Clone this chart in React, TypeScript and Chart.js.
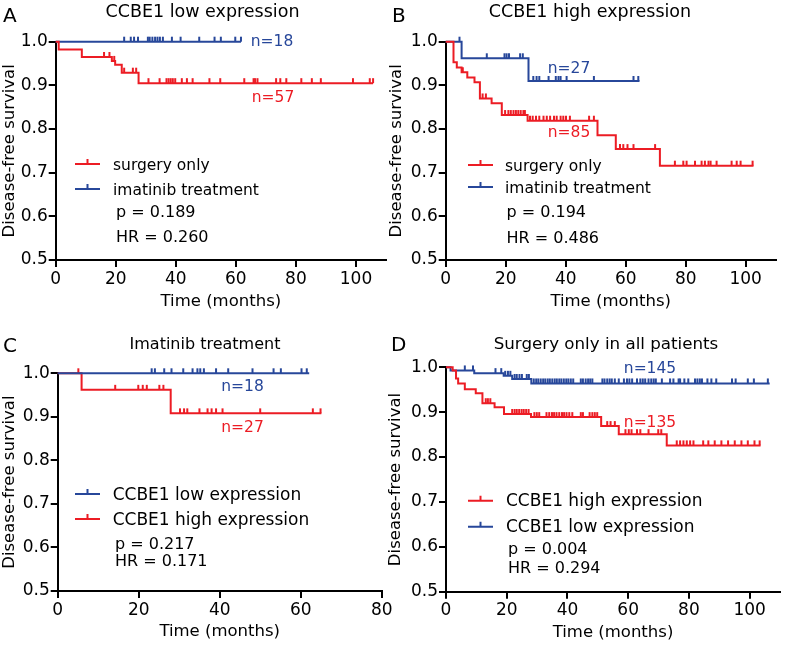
import React, { useEffect, useRef } from "react";
import { Chart, registerables } from "chart.js";

Chart.register(...registerables);

const FONT = "'DejaVu Sans', 'Liberation Sans', sans-serif";
const RED = "#EC1C24";
const BLUE = "#27479A";

// ---------- shared tick labels ----------
const X_TICKS_110 = [0, 20, 40, 60, 80, 100];
const X_TICKS_80 = [0, 20, 40, 60, 80];
const Y_TICKS = [0.5, 0.6, 0.7, 0.8, 0.9, 1.0];

// ---------- Panel A: CCBE1 low expression ----------
const A_RED_TIMES = [0, 1, 8.7, 18.7, 19.8, 22, 27.6];
const A_RED_SURV = [1, 0.982, 0.965, 0.956, 0.947, 0.929, 0.905];
const A_RED_END = 105.7;
const A_RED_CENSOR = [16.1, 17.9, 19.5, 22.8, 25.7, 26.8, 30.9, 34.6, 36.9, 37.6, 38.3, 39, 39.8, 42, 43.7, 45.6, 51.2, 54.8, 62.8, 65.9, 66.4, 67.2, 73.4, 74.8, 76.8, 81.8, 85.3, 88.3, 99, 104.6, 105.7];
const A_BLUE_TIMES = [0];
const A_BLUE_SURV = [1];
const A_BLUE_END = 61.7;
const A_BLUE_CENSOR = [22.8, 25, 26.1, 27.4, 30.7, 31.3, 32.2, 33.1, 33.9, 34.7, 35.7, 38.7, 41.6, 47.8, 52.9, 55, 59.8, 61.7];

// ---------- Panel B: CCBE1 high expression ----------
const B_RED_TIMES = [0, 2.6, 3.7, 5.3, 7.2, 9.6, 11.4, 15.3, 18.7, 27.3, 50.6, 56.7, 71.4];
const B_RED_SURV = [1, 0.953, 0.941, 0.93, 0.918, 0.907, 0.87, 0.859, 0.832, 0.819, 0.786, 0.754, 0.716];
const B_RED_END = 102.6;
const B_RED_CENSOR = [5.7, 12.3, 13.4, 19.8, 20.9, 21.7, 22.6, 23.4, 24.2, 25, 25.9, 26.4, 28.1, 29, 30.1, 31.2, 32.6, 33.7, 34.8, 36.1, 37, 38.3, 39.2, 40.1, 41.4, 47.8, 49.4, 58.1, 59.2, 60.6, 62.6, 69.8, 76.4, 79.2, 80.3, 83.1, 85.3, 86.4, 87.6, 88.3, 90.3, 95.3, 97, 98.3, 102.3];
const B_BLUE_TIMES = [0, 5.3, 27.6];
const B_BLUE_SURV = [1, 0.962, 0.91];
const B_BLUE_END = 64.6;
const B_BLUE_CENSOR = [4.6, 13.7, 19.6, 20.3, 21.1, 24.8, 25.7, 29.2, 30.3, 31.2, 34.3, 36.7, 37.6, 38.3, 40.3, 49.4, 62.6, 64.2];

// ---------- Panel C: Imatinib treatment ----------
const C_BLUE_TIMES = [0];
const C_BLUE_SURV = [1];
const C_BLUE_END = 62.1;
const C_BLUE_CENSOR = [23.2, 24, 26.3, 28.1, 31, 33.3, 34.5, 35.2, 36.1, 39.1, 42.1, 48.1, 53.3, 55.1, 60.2, 61.5];
const C_RED_TIMES = [0, 5.9, 27.9];
const C_RED_SURV = [1, 0.962, 0.908];
const C_RED_END = 65.1;
const C_RED_CENSOR = [5.1, 14.2, 19.9, 21, 22, 25.1, 26.1, 30.2, 31.2, 32, 35, 37, 38, 39.1, 40.7, 50, 63, 64.9];

// ---------- Panel D: Surgery only in all patients ----------
const D_RED_TIMES = [0, 2.2, 3.3, 4.0, 6.2, 9.8, 12, 16, 19.1, 28, 51.1, 56.9, 72.7];
const D_RED_SURV = [1, 0.993, 0.975, 0.964, 0.951, 0.942, 0.92, 0.911, 0.896, 0.889, 0.869, 0.851, 0.826];
const D_RED_END = 103.6;
const D_RED_CENSOR = [13.1, 13.8, 14.6, 21.8, 22.6, 23.3, 24.1, 24.9, 25.6, 26.4, 27.2, 29.1, 29.9, 30.7, 33.1, 34, 34.9, 35.6, 36.4, 37.3, 38.2, 38.9, 39.7, 40.6, 41.6, 44.4, 45.1, 47.3, 48.2, 49, 49.8, 53.1, 54.2, 55.6, 59.1, 60.2, 61.1, 62.9, 64, 66.7, 69.9, 70.9, 76, 77.1, 78.2, 79.3, 80.4, 81.5, 84.7, 86.4, 88.5, 90.7, 92.9, 95.1, 97.3, 99.4, 101.6, 103.3];
const D_BLUE_TIMES = [0, 1.5, 9.3, 19, 21.8, 28.1];
const D_BLUE_SURV = [1, 0.993, 0.987, 0.981, 0.974, 0.964];
const D_BLUE_END = 106.6;
const D_BLUE_CENSOR = [6.2, 8.9, 16.3, 18.2, 19.5, 20.4, 21.2, 22.6, 23.3, 24.2, 25, 26.6, 27.3, 28.9, 29.7, 30.4, 31.2, 32, 32.7, 33.5, 34.2, 35, 35.8, 36.5, 37.3, 38, 38.8, 39.6, 40.3, 41.1, 41.9, 44.4, 45.1, 46, 46.8, 47.5, 48.2, 51.5, 52.2, 53.1, 53.9, 54.6, 55.6, 56.9, 58.6, 59.6, 60.4, 61.3, 62.9, 64, 64.8, 65.6, 66.7, 67.6, 68.4, 69.1, 71.1, 73.8, 74.9, 76.6, 77.1, 78.5, 79.8, 82, 82.8, 83.6, 84.3, 86.1, 87.4, 89, 94.2, 95.4, 99.4, 101.4, 106];

// ---------- helpers ----------
type Pt = { x: number; y: number };

function stepPoints(times: number[], surv: number[], end: number): Pt[] {
  const pts: Pt[] = [];
  for (let i = 0; i < times.length; i++) {
    if (i > 0) pts.push({ x: times[i], y: surv[i - 1] });
    pts.push({ x: times[i], y: surv[i] });
  }
  pts.push({ x: end, y: surv[surv.length - 1] });
  return pts;
}

function survAt(times: number[], surv: number[], t: number): number {
  let s = surv[0];
  for (let i = 0; i < times.length; i++) if (times[i] <= t) s = surv[i];
  return s;
}

interface Series {
  label: string;
  color: string;
  times: number[];
  surv: number[];
  end: number;
  censor: number[];
}

interface PanelCfg {
  xMax: number;
  xTicks: number[];
  L: number; T: number; R: number; B: number;
  yTitleCX: number; xTitleCY: number;
  letter: string; letterX: number; letterY: number;
  title: string; titleCX: number; titleY: number; titleSize: number;
  series: Series[];
  legendX: number; legendTextX: number; legendYs: number[]; legendSize: number;
  stats: string[]; statsX: number; statsYs: number[]; statsSize: number;
  nLabels: { text: string; color: string; cx: number; y: number }[];
}

const PANELS: PanelCfg[] = [
  {
    xMax: 110, xTicks: X_TICKS_110,
    L: 55.7, T: 41.7, R: 386, B: 260,
    yTitleCX: 10, xTitleCY: 302,
    letter: "A", letterX: 3, letterY: 21.5,
    title: "CCBE1 low expression", titleCX: 202.5, titleY: 17, titleSize: 17.5,
    series: [
      { label: "surgery only", color: RED, times: A_RED_TIMES, surv: A_RED_SURV, end: A_RED_END, censor: A_RED_CENSOR },
      { label: "imatinib treatment", color: BLUE, times: A_BLUE_TIMES, surv: A_BLUE_SURV, end: A_BLUE_END, censor: A_BLUE_CENSOR },
    ],
    legendX: 75, legendTextX: 113, legendYs: [164, 189], legendSize: 15.5,
    stats: ["p = 0.189", "HR = 0.260"], statsX: 116, statsYs: [217, 242], statsSize: 16,
    nLabels: [
      { text: "n=18", color: BLUE, cx: 272, y: 46 },
      { text: "n=57", color: RED, cx: 273, y: 101.7 },
    ],
  },
  {
    xMax: 110, xTicks: X_TICKS_110,
    L: 445.7, T: 41.7, R: 775.7, B: 260,
    yTitleCX: 397, xTitleCY: 302,
    letter: "B", letterX: 392, letterY: 21.5,
    title: "CCBE1 high expression", titleCX: 590, titleY: 17, titleSize: 17.5,
    series: [
      { label: "surgery only", color: RED, times: B_RED_TIMES, surv: B_RED_SURV, end: B_RED_END, censor: B_RED_CENSOR },
      { label: "imatinib treatment", color: BLUE, times: B_BLUE_TIMES, surv: B_BLUE_SURV, end: B_BLUE_END, censor: B_BLUE_CENSOR },
    ],
    legendX: 468, legendTextX: 505, legendYs: [165, 187], legendSize: 15.5,
    stats: ["p = 0.194", "HR = 0.486"], statsX: 506.5, statsYs: [217, 242.5], statsSize: 16,
    nLabels: [
      { text: "n=27", color: BLUE, cx: 569, y: 73.3 },
      { text: "n=85", color: RED, cx: 569, y: 137.3 },
    ],
  },
  {
    xMax: 80, xTicks: X_TICKS_80,
    L: 57.7, T: 373.3, R: 381.7, B: 591,
    yTitleCX: 10, xTitleCY: 632,
    letter: "C", letterX: 3, letterY: 352,
    title: "Imatinib treatment", titleCX: 205, titleY: 349, titleSize: 16,
    series: [
      { label: "CCBE1 low expression", color: BLUE, times: C_BLUE_TIMES, surv: C_BLUE_SURV, end: C_BLUE_END, censor: C_BLUE_CENSOR },
      { label: "CCBE1 high expression", color: RED, times: C_RED_TIMES, surv: C_RED_SURV, end: C_RED_END, censor: C_RED_CENSOR },
    ],
    legendX: 75, legendTextX: 112.7, legendYs: [494, 519], legendSize: 17,
    stats: ["p = 0.217", "HR = 0.171"], statsX: 115, statsYs: [548.6, 565.5], statsSize: 16,
    nLabels: [
      { text: "n=18", color: BLUE, cx: 242.5, y: 390.7 },
      { text: "n=27", color: RED, cx: 242.5, y: 431.7 },
    ],
  },
  {
    xMax: 110, xTicks: X_TICKS_110,
    L: 446, T: 367.3, R: 782.3, B: 591.7,
    yTitleCX: 396, xTitleCY: 633,
    letter: "D", letterX: 391, letterY: 351,
    title: "Surgery only in all patients", titleCX: 606, titleY: 349, titleSize: 16.7,
    series: [
      { label: "CCBE1 high expression", color: RED, times: D_RED_TIMES, surv: D_RED_SURV, end: D_RED_END, censor: D_RED_CENSOR },
      { label: "CCBE1 low expression", color: BLUE, times: D_BLUE_TIMES, surv: D_BLUE_SURV, end: D_BLUE_END, censor: D_BLUE_CENSOR },
    ],
    legendX: 468, legendTextX: 506, legendYs: [500.7, 526.7], legendSize: 17,
    stats: ["p = 0.004", "HR = 0.294"], statsX: 508, statsYs: [553.5, 572.5], statsSize: 16,
    nLabels: [
      { text: "n=145", color: BLUE, cx: 650, y: 373.3 },
      { text: "n=135", color: RED, cx: 650, y: 426.7 },
    ],
  },
];

const W = 787;
const H = 646;
const TICK_SIZE = 17;
const AXIS_TITLE_SIZE = 16.5;

function makeAnnotate(cfg: PanelCfg) {
  return {
    id: "annotate" + cfg.letter,
    afterDraw(chart: any) {
      const ctx: CanvasRenderingContext2D = chart.ctx;
      ctx.save();
      ctx.textBaseline = "alphabetic";
      // panel letter
      ctx.fillStyle = "#000";
      ctx.textAlign = "left";
      ctx.font = `20px ${FONT}`;
      ctx.fillText(cfg.letter, cfg.letterX, cfg.letterY);
      // title
      ctx.textAlign = "center";
      ctx.font = `${cfg.titleSize}px ${FONT}`;
      ctx.fillText(cfg.title, cfg.titleCX, cfg.titleY);
      // legend
      cfg.series.forEach((s, i) => {
        const y = cfg.legendYs[i];
        ctx.strokeStyle = s.color;
        ctx.lineWidth = 2;
        ctx.beginPath();
        ctx.moveTo(cfg.legendX, y);
        ctx.lineTo(cfg.legendX + 25, y);
        ctx.moveTo(cfg.legendX + 12.5, y);
        ctx.lineTo(cfg.legendX + 12.5, y - 5);
        ctx.stroke();
        ctx.fillStyle = "#000";
        ctx.textAlign = "left";
        ctx.font = `${cfg.legendSize}px ${FONT}`;
        ctx.fillText(s.label, cfg.legendTextX, y + 5.5);
      });
      // stats
      ctx.font = `${cfg.statsSize}px ${FONT}`;
      ctx.fillStyle = "#000";
      ctx.textAlign = "left";
      cfg.stats.forEach((t, i) => ctx.fillText(t, cfg.statsX, cfg.statsYs[i]));
      // n labels
      ctx.textAlign = "center";
      ctx.font = `15.5px ${FONT}`;
      cfg.nLabels.forEach((n) => {
        ctx.fillStyle = n.color;
        ctx.fillText(n.text, n.cx, n.y);
      });
      ctx.restore();
    },
  };
}

function Panel({ cfg }: { cfg: PanelCfg }) {
  const ref = useRef<HTMLCanvasElement>(null);
  useEffect(() => {
    if (!ref.current) return;
    const yHalf = (AXIS_TITLE_SIZE * 1.2) / 2;
    const padLeft = cfg.yTitleCX - yHalf;
    const yWidth = cfg.L - padLeft;
    const xHeight = cfg.xTitleCY + yHalf - cfg.B;
    const padBottom = H - cfg.B - xHeight;
    const padRight = W - cfg.R;

    const datasets: any[] = [];
    cfg.series.forEach((s) => {
      datasets.push({
        type: "line",
        data: stepPoints(s.times, s.surv, s.end),
        borderColor: s.color,
        borderWidth: 2,
        pointRadius: 0,
        fill: false,
        tension: 0,
        clip: false,
      });
      datasets.push({
        type: "line",
        data: s.censor.map((t) => ({ x: t, y: survAt(s.times, s.surv, t) })),
        showLine: false,
        pointStyle: "dash",
        rotation: -90,
        pointRadius: 5,
        pointBorderWidth: 2,
        pointBorderColor: s.color,
        pointBackgroundColor: s.color,
        clip: false,
      });
    });

    const tickFont = { family: FONT, size: TICK_SIZE };
    const titleFont = { family: FONT, size: AXIS_TITLE_SIZE };

    const chart = new Chart(ref.current, {
      type: "line",
      data: { datasets },
      plugins: [makeAnnotate(cfg)],
      options: {
        responsive: false,
        animation: false,
        events: [],
        layout: { padding: { left: padLeft, top: cfg.T, right: padRight, bottom: padBottom } },
        plugins: {
          legend: { display: false },
          tooltip: { enabled: false },
          title: { display: false },
        },
        scales: {
          x: {
            type: "linear",
            min: 0,
            max: cfg.xMax,
            afterBuildTicks: (scale: any) => {
              scale.ticks = cfg.xTicks.map((v) => ({ value: v }));
            },
            ticks: {
              color: "#000",
              font: tickFont,
              padding: 2,
              maxRotation: 0,
              autoSkip: false,
              callback: (v: any) => String(v),
            },
            grid: { display: true, drawOnChartArea: false, drawTicks: true, tickLength: 7, color: "#000", lineWidth: 2 },
            border: { display: true, color: "#000", width: 2 },
            title: { display: true, text: "Time (months)", color: "#000", font: titleFont, padding: 0 },
            afterFit: (scale: any) => {
              scale.height = xHeight;
            },
          },
          y: {
            type: "linear",
            min: 0.5,
            max: 1,
            afterBuildTicks: (scale: any) => {
              scale.ticks = Y_TICKS.map((v) => ({ value: v }));
            },
            ticks: {
              color: "#000",
              font: tickFont,
              padding: 1,
              autoSkip: false,
              callback: (v: any) => Number(v).toFixed(1),
            },
            grid: { display: true, drawOnChartArea: false, drawTicks: true, tickLength: 7, color: "#000", lineWidth: 2 },
            border: { display: true, color: "#000", width: 2 },
            title: { display: true, text: "Disease-free survival", color: "#000", font: titleFont, padding: 0 },
            afterFit: (scale: any) => {
              scale.width = yWidth;
            },
          },
        },
      } as any,
    });
    return () => chart.destroy();
  }, [cfg]);
  return (
    <canvas
      ref={ref}
      width={W}
      height={H}
      style={{ position: "absolute", left: 0, top: 0, width: W, height: H }}
    />
  );
}

export default function App() {
  return (
    <div style={{ position: "absolute", left: 0, top: 0, width: W, height: H, background: "#fff", overflow: "hidden" }}>
      {PANELS.map((p) => (
        <Panel key={p.letter} cfg={p} />
      ))}
    </div>
  );
}
